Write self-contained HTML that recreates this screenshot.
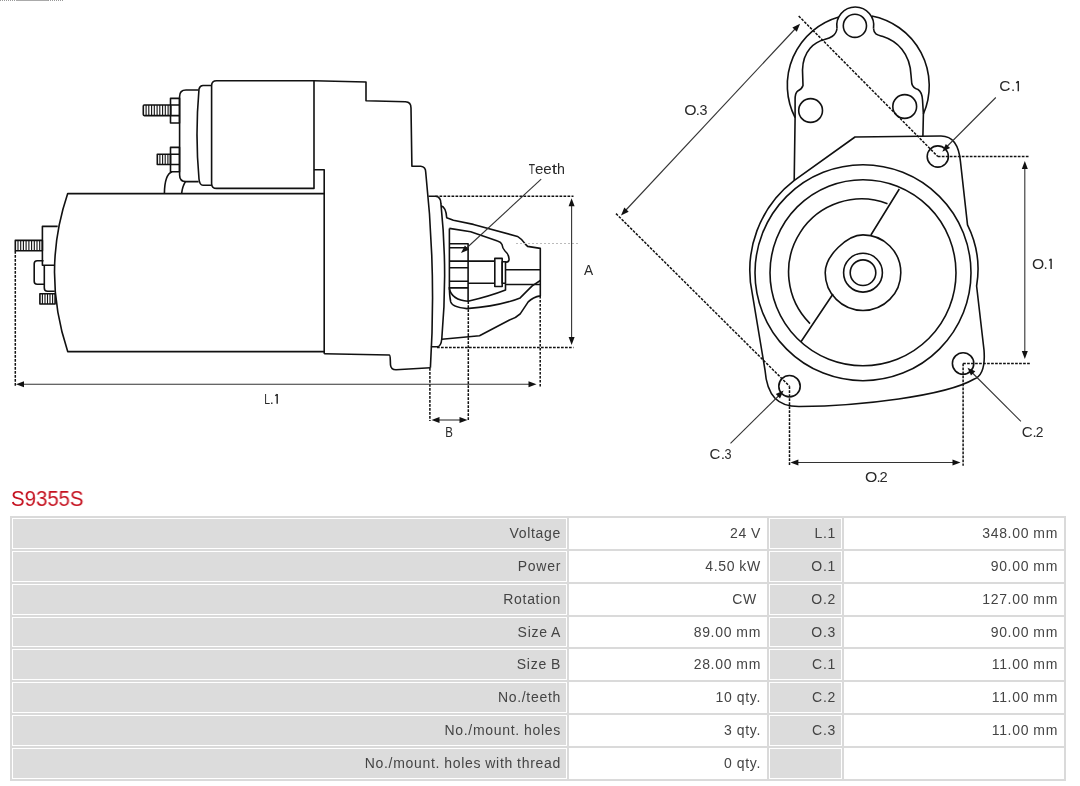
<!DOCTYPE html>
<html><head><meta charset="utf-8">
<style>
html,body{margin:0;padding:0;background:#fff;width:1080px;height:786px;overflow:hidden;position:relative;font-family:"Liberation Sans",sans-serif;}
svg{position:absolute;left:0;top:0;will-change:transform;}
.tb,.title{will-change:transform;}
.title{position:absolute;left:10.5px;top:485.5px;font-size:20.6px;color:#c5111f;line-height:24px;letter-spacing:0px;transform:scale(0.99,1.07);transform-origin:0 0;}
.tb{position:absolute;left:10px;top:516px;width:1056px;height:265px;background:#dadada;}
.c{position:absolute;box-sizing:border-box;border:1px solid #fff;font-size:14px;color:#444;text-align:right;padding-right:5px;line-height:28px;white-space:nowrap;letter-spacing:0.7px;word-spacing:-0.5px;}
.g{background:#dcdcdc;}
.w{background:#fff;}
</style></head><body>
<svg width="1080" height="500" viewBox="0 0 1080 500">
<g fill="none" stroke="#111" stroke-width="1.6" stroke-linejoin="round">
<!-- SIDE VIEW -->
<!-- top terminal bolt -->
<rect x="143.3" y="105" width="27.5" height="10.6" rx="1"/>
<rect x="170.5" y="98.4" width="9" height="24.6"/>
<path d="M170.5,105 H179.5 M170.5,115.6 H179.5"/>
<!-- lower terminal bolt -->
<rect x="157.3" y="154.3" width="13.2" height="10.2"/>
<rect x="170.5" y="147.4" width="9" height="24.3"/>
<path d="M170.5,154.3 H179.5 M170.5,164.5 H179.5"/>
<path stroke-width="1.1" d="M146.1,105 V115.6 M148.8,105 V115.6 M151.6,105 V115.6 M154.3,105 V115.6 M157.1,105 V115.6 M159.8,105 V115.6 M162.6,105 V115.6 M165.3,105 V115.6 M168.1,105 V115.6 M159.9,154.3 V164.5 M162.6,154.3 V164.5 M165.2,154.3 V164.5 M167.9,154.3 V164.5 M18.0,240.4 V250.8 M20.7,240.4 V250.8 M23.4,240.4 V250.8 M26.1,240.4 V250.8 M28.9,240.4 V250.8 M31.6,240.4 V250.8 M34.3,240.4 V250.8 M37.0,240.4 V250.8 M39.7,240.4 V250.8 M42.4,293.8 V304 M45.0,293.8 V304 M47.5,293.8 V304 M50.0,293.8 V304 M52.6,293.8 V304"/>
<!-- cable curves -->
<path d="M164.4,193.6 C164.5,182 166,174 172,171.7"/>
<path d="M181.6,193.6 Q182.5,186 185.5,181.6"/>
<!-- cap -->
<path d="M198.6,90 H186 Q179.6,90 179.6,96.5 V175 Q179.6,181.6 186,181.6 H198.6"/>
<!-- ring -->
<path d="M211.6,85.5 H203 Q200,85.5 199,89 Q195,135 199,179 Q199.6,185.3 203,185.3 H211.6"/>
<!-- solenoid body -->
<path d="M314,80.8 H216.6 Q211.6,80.8 211.6,85.8 V183.4 Q211.6,188.4 216.6,188.4 H314 V80.8"/>
<!-- housing top outline -->
<path d="M314,80.8 L366,82 V100.7 L405.5,101.8 Q411,102 411,108 L411.9,166.2 H420.8 Q425.7,166.7 425.7,172 Q436.4,270.9 430.4,367.7"/>
<path d="M314,169.8 H324.2 V353.7"/>
<!-- motor body -->
<path d="M324.2,193.6 H67.7 Q41.3,272 67.7,351.6 H324.2"/>
<path d="M324.2,353.7 L389.2,355 Q390.2,355 390.3,360 L390.5,365 Q391,369.8 396,369.8 L430.4,367.7"/>
<!-- rear parts -->
<rect x="15.3" y="240.4" width="27.1" height="10.4"/>
<path d="M42.4,251 V226.4 H57.7"/>
<path d="M42.4,251 V265.2 H54.5"/>
<path d="M43.5,260.8 H37.2 Q34.2,260.8 34.2,263.8 V281.3 Q34.2,284.3 37.2,284.3 H44.3"/>
<path d="M44.3,265.2 V288 Q44.3,291.3 47.5,291.3 H54.8"/>
<rect x="39.9" y="293.8" width="15.2" height="10.2"/>
<!-- flange ring -->
<path d="M428.5,196.3 H435.5 Q440.9,197 440.9,203.4 Q447.9,271 441.8,338.7 Q441,346.8 437,346.8 H430.9"/>
<!-- pinion housing -->
<path d="M441,205.7 Q446,207 446.7,217.7 L453.4,220.3 L473.4,224.4 L517.5,236.4 Q522,239 525.6,244.4 L527.6,246.4 L540.3,248.4 V295.9 Q533,297 528.2,301.9 L520.2,313.9 Q516,318 509.5,320 L479.5,335.7 L441.8,339.2"/>
<path d="M540.3,280.5 L532.2,285.9 Q528,290 520.2,297.9 Q500,306 466.7,308.6 Q452,307 450.7,301.9 Q449.4,296 449.4,287"/>
<path d="M449.4,228.4 L470.7,231.7 L497.5,241.1 Q501,242 502,244.5 Q502.5,248.5 505,251 Q509.5,255 509,260 Q508.5,262.5 505.5,262"/>
<path d="M449.4,228.4 V289 Q452,300 468,301.2 Q490,296 505.5,289.9 V283.8"/>
<!-- teeth -->
<path d="M449.4,243.7 H468.1 V301.2 M449.4,247.8 H468.1 M449.4,261.1 H494.8 M449.4,267.8 H468.1 M449.4,281.2 H468.1 M449.4,287.9 H468.1 M468.1,283.2 H494.8"/>
<rect x="494.8" y="258.4" width="7.4" height="28.1"/>
<rect x="502.2" y="261.8" width="3.3" height="21.4"/>
<path d="M505.5,269.8 H540.3 M505.5,284.5 H540.3"/>

<!-- FRONT VIEW -->
<path d="M795.1,117.6 A71.1,71.1 0 0 1 838.8,16.9 M871.8,16 A71.1,71.1 0 0 1 923.4,114"/>
<path d="M837,28.5 A18.5,18.5 0 1 1 873.5,28.5"/>
<path d="M837,28.5 C836,36 830,38 824.5,39.5 C815,42 803,50 802.5,70 L803,85.5 Q802,89 797.8,90.9 Q795,93 795.1,99.8 L795.1,117.6 L794.2,180.6"/>
<path d="M873.5,28.5 C874,35 878,35 883,36.5 C897,41 910,53 911,75 L911.8,83.7 Q913,88 918,89.5 Q922,92 922.5,99.8 L923.4,114 L922.9,136"/>
<circle cx="854.9" cy="25.8" r="11.6"/>
<circle cx="810.6" cy="110.5" r="11.9"/>
<circle cx="904.7" cy="106.5" r="11.9"/>
<!-- flange -->
<path d="M794,180.6 L855,137 L941,136 C952,136 959,145 960.5,162 L967.5,224.8 A100,100 0 0 1 976.6,286 L984,350 Q986,375 973.8,379.3 C945,396 860,406 800,406.5 C778,407 767,396 765,370 L752.2,293.2 A113,113 0 0 1 794,180.6"/>
<circle cx="937.8" cy="156.5" r="10.6"/>
<circle cx="963.1" cy="363.5" r="10.7"/>
<circle cx="789.5" cy="386.2" r="10.7"/>
<!-- circles -->
<circle cx="863" cy="272.7" r="108"/>
<circle cx="863" cy="272.7" r="93"/>
<path d="M825.2,272.7 C825.2,256 847,234.9 863,234.9 C884,234.9 900.8,251.8 900.8,272.7 C900.8,293.6 884,310.5 863,310.5 C842.1,310.5 825.2,293.6 825.2,272.7 Z"/>
<circle cx="863" cy="272.7" r="19.4"/>
<circle cx="863" cy="272.7" r="12.8"/>
<path d="M887.5,203.7 A73,73 0 0 0 810,323.6"/>
<path d="M899.3,189 L870.9,235 M833,294 L800.8,342"/>
</g>
<path d="M0,0.5 H16 M48,0.5 H64" stroke="#999" stroke-width="1" stroke-dasharray="1 1"/>
<path d="M16,0.5 H48" stroke="#aaa" stroke-width="1"/>
<!-- dotted lines -->
<g fill="none" stroke="#111" stroke-width="1.5" stroke-dasharray="2.7 1.3">
<path d="M15.3,251 V387"/>
<path d="M435.5,196.3 H573.5 M437,347.4 H573.5"/>
<path d="M429.9,368 V421 M468.3,301.2 V421 M540.2,295.9 V387"/>
<path d="M798.7,16 L937.8,156.5 M616,213.6 L789.5,386.2"/>
<path d="M937.8,156.5 H1028.5 M963.1,363.5 H1029.8"/>
<path d="M789.5,386.2 V465.5 M963.1,363.5 V465.8"/>
</g>
<path d="M516,243.5 H580" stroke="#bbb" stroke-width="1" stroke-dasharray="2 2"/>
<!-- dimension lines -->
<g stroke="#333" stroke-width="1.1" fill="none">
<path d="M22,384.3 H531"/>
<path d="M438,420 H461"/>
<path d="M571.6,204 V339"/>
<path d="M541.2,179.2 L465,249.5"/>
<path d="M795.5,28.5 L625.5,210.5"/>
<path d="M1024.8,167 V353"/>
<path d="M796,462.5 H955"/>
<path d="M995.8,97.5 L946.5,147"/>
<path d="M1020.9,421.3 L971.5,372"/>
<path d="M730.5,443.4 L779.5,395"/>
</g>
<g fill="#111" stroke="none">
<path d="M16.0,384.3 L24.0,381.3 L24.0,387.3 Z"/>
<path d="M536.5,384.3 L528.5,387.3 L528.5,381.3 Z"/>
<path d="M431.5,420.0 L439.5,417.0 L439.5,423.0 Z"/>
<path d="M467.5,420.0 L459.5,423.0 L459.5,417.0 Z"/>
<path d="M571.6,198.3 L574.6,206.3 L568.6,206.3 Z"/>
<path d="M571.6,344.9 L568.6,336.9 L574.6,336.9 Z"/>
<path d="M461.0,253.0 L464.9,245.4 L468.9,249.8 Z"/>
<path d="M800.1,23.8 L796.8,31.7 L792.4,27.6 Z"/>
<path d="M621.0,215.5 L624.3,207.6 L628.7,211.7 Z"/>
<path d="M1024.8,161.0 L1027.8,169.0 L1021.8,169.0 Z"/>
<path d="M1024.8,359.0 L1021.8,351.0 L1027.8,351.0 Z"/>
<path d="M790.4,462.5 L798.4,459.5 L798.4,465.5 Z"/>
<path d="M960.5,462.5 L952.5,465.5 L952.5,459.5 Z"/>
<path d="M942.3,151.7 L945.8,143.9 L950.1,148.1 Z"/>
<path d="M967.5,367.8 L975.3,371.3 L971.0,375.6 Z"/>
<path d="M783.6,390.6 L780.0,398.4 L775.8,394.1 Z"/>
</g>
<g font-family="Liberation Sans, sans-serif" fill="#2a2a2a">
<text transform="translate(999.36,91.15) scale(1.034,1)" font-size="14.97">C</text>
<text transform="translate(1010.88,91.15) scale(1.000,1)" font-size="14.97">.</text>
<path d="M1018.30,81.00 V91.15 M1016.20,82.80 L1018.30,81.30" stroke="#2a2a2a" stroke-width="1.45" fill="none"/>
<text transform="translate(1031.91,269.05) scale(1.027,1)" font-size="15.26">O</text>
<text transform="translate(1043.56,269.05) scale(1.000,1)" font-size="15.26">.</text>
<path d="M1051.10,258.70 V269.05 M1049.20,260.50 L1051.10,259.00" stroke="#2a2a2a" stroke-width="1.45" fill="none"/>
<text transform="translate(684.30,115.35) scale(1.067,1)" font-size="14.83">O</text>
<text transform="translate(695.70,115.35) scale(1.000,1)" font-size="14.83">.</text>
<text transform="translate(699.50,115.35) scale(0.967,1)" font-size="14.83">3</text>
<text transform="translate(864.90,481.65) scale(1.067,1)" font-size="14.83">O</text>
<text transform="translate(876.60,481.65) scale(1.000,1)" font-size="14.83">.</text>
<text transform="translate(879.51,481.65) scale(0.992,1)" font-size="14.83">2</text>
<text transform="translate(1021.68,436.65) scale(1.022,1)" font-size="14.83">C</text>
<text transform="translate(1032.60,436.65) scale(1.000,1)" font-size="14.83">.</text>
<text transform="translate(1035.85,436.65) scale(0.933,1)" font-size="14.83">2</text>
<text transform="translate(709.59,459.05) scale(0.965,1)" font-size="15.55">C</text>
<text transform="translate(720.63,459.05) scale(1.000,1)" font-size="15.55">.</text>
<text transform="translate(724.47,459.05) scale(0.814,1)" font-size="15.55">3</text>
<text transform="translate(264.19,403.85) scale(0.718,1)" font-size="14.54">L</text>
<text transform="translate(269.72,403.85) scale(1.000,1)" font-size="14.54">.</text>
<path d="M277.20,394.00 V403.85 M275.30,395.80 L277.20,394.30" stroke="#2a2a2a" stroke-width="1.45" fill="none"/>
<text transform="translate(445.31,436.55) scale(0.821,1)" font-size="13.95">B</text>
<text transform="translate(584.12,274.55) scale(0.984,1)" font-size="13.95">A</text>
<text transform="translate(528.82,173.55) scale(0.679,1)" font-size="15.12">T</text>
<text transform="translate(534.91,173.55) scale(1.001,1)" font-size="15.12">e</text>
<text transform="translate(543.31,173.55) scale(1.001,1)" font-size="15.12">e</text>
<text transform="translate(551.86,173.55) scale(1.269,1)" font-size="15.12">t</text>
<text transform="translate(556.96,173.55) scale(0.941,1)" font-size="15.12">h</text>
</g>
</svg>
<div class="title">S9355S</div>
<div class="tb">
<div class="c g" style="left:2px;top:2px;width:555px;height:31px">Voltage</div>
<div class="c w" style="left:559px;top:2px;width:198px;height:31px">24 V</div>
<div class="c g" style="left:759px;top:2px;width:73px;height:31px">L.1</div>
<div class="c w" style="left:834px;top:2px;width:220px;height:31px">348.00 mm</div>
<div class="c g" style="left:2px;top:35px;width:555px;height:31px">Power</div>
<div class="c w" style="left:559px;top:35px;width:198px;height:31px">4.50 kW</div>
<div class="c g" style="left:759px;top:35px;width:73px;height:31px">O.1</div>
<div class="c w" style="left:834px;top:35px;width:220px;height:31px">90.00 mm</div>
<div class="c g" style="left:2px;top:68px;width:555px;height:31px">Rotation</div>
<div class="c w" style="left:559px;top:68px;width:198px;height:31px">CW&nbsp;</div>
<div class="c g" style="left:759px;top:68px;width:73px;height:31px">O.2</div>
<div class="c w" style="left:834px;top:68px;width:220px;height:31px">127.00 mm</div>
<div class="c g" style="left:2px;top:101px;width:555px;height:30px">Size A</div>
<div class="c w" style="left:559px;top:101px;width:198px;height:30px">89.00 mm</div>
<div class="c g" style="left:759px;top:101px;width:73px;height:30px">O.3</div>
<div class="c w" style="left:834px;top:101px;width:220px;height:30px">90.00 mm</div>
<div class="c g" style="left:2px;top:133px;width:555px;height:31px">Size B</div>
<div class="c w" style="left:559px;top:133px;width:198px;height:31px">28.00 mm</div>
<div class="c g" style="left:759px;top:133px;width:73px;height:31px">C.1</div>
<div class="c w" style="left:834px;top:133px;width:220px;height:31px">11.00 mm</div>
<div class="c g" style="left:2px;top:166px;width:555px;height:31px">No./teeth</div>
<div class="c w" style="left:559px;top:166px;width:198px;height:31px">10 qty.</div>
<div class="c g" style="left:759px;top:166px;width:73px;height:31px">C.2</div>
<div class="c w" style="left:834px;top:166px;width:220px;height:31px">11.00 mm</div>
<div class="c g" style="left:2px;top:199px;width:555px;height:31px">No./mount. holes</div>
<div class="c w" style="left:559px;top:199px;width:198px;height:31px">3 qty.</div>
<div class="c g" style="left:759px;top:199px;width:73px;height:31px">C.3</div>
<div class="c w" style="left:834px;top:199px;width:220px;height:31px">11.00 mm</div>
<div class="c g" style="left:2px;top:232px;width:555px;height:31px">No./mount. holes with thread</div>
<div class="c w" style="left:559px;top:232px;width:198px;height:31px">0 qty.</div>
<div class="c g" style="left:759px;top:232px;width:73px;height:31px"></div>
<div class="c w" style="left:834px;top:232px;width:220px;height:31px"></div>
</div>
</body></html>
